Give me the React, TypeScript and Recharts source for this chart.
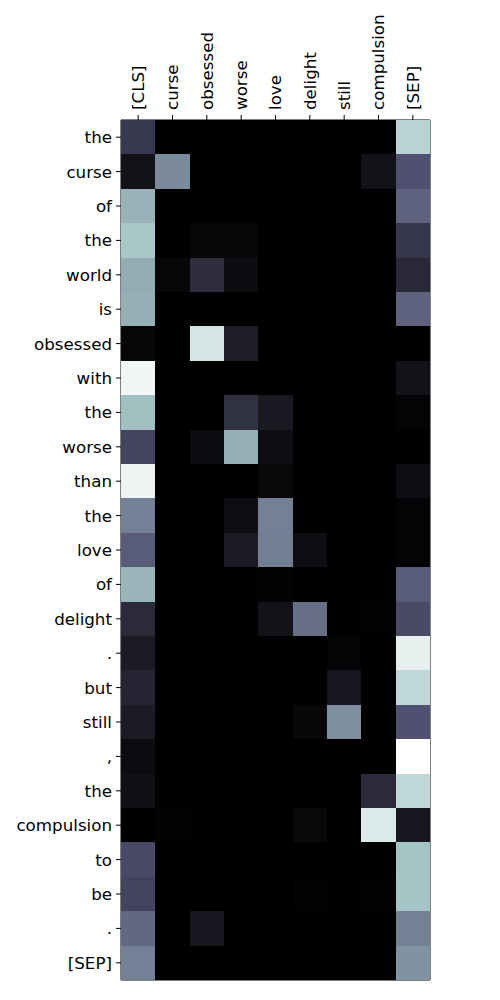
import { Scatter, ScatterChart, XAxis, YAxis } from 'recharts';

// Attention weights: one array per key token (column), 25 query tokens (rows)
const colLabels = ['[CLS]', 'curse', 'obsessed', 'worse', 'love', 'delight', 'still', 'compulsion', '[SEP]'];

const rowLabels = [
  'the', 'curse', 'of', 'the', 'world', 'is', 'obsessed', 'with', 'the', 'worse', 'than', 'the',
  'love', 'of', 'delight', '.', 'but', 'still', ',', 'the', 'compulsion', 'to', 'be', '.', '[SEP]',
];

const clsCol = [0.25, 0.08, 0.68, 0.75, 0.66, 0.67, 0.03, 0.96, 0.72, 0.3, 0.95, 0.52, 0.4, 0.69, 0.19, 0.12, 0.16, 0.12, 0.05, 0.07, 0.0, 0.33, 0.3, 0.44, 0.52];
const curseCol = [0, 0.55, 0, 0, 0.03, 0, 0, 0, 0, 0, 0, 0, 0, 0, 0, 0, 0, 0, 0, 0, 0.01, 0, 0, 0, 0];
const obsessedCol = [0, 0, 0, 0.03, 0.2, 0, 0.88, 0, 0, 0.05, 0, 0, 0, 0, 0, 0, 0, 0, 0, 0, 0, 0, 0, 0.1, 0];
const worseCol = [0, 0, 0, 0.03, 0.05, 0, 0.13, 0, 0.22, 0.67, 0, 0.06, 0.12, 0, 0, 0, 0, 0, 0, 0, 0, 0, 0, 0, 0];
const loveCol = [0, 0, 0, 0, 0, 0, 0, 0, 0.11, 0.06, 0.04, 0.52, 0.51, 0.01, 0.08, 0, 0, 0, 0, 0, 0, 0, 0, 0, 0];
const delightCol = [0, 0, 0, 0, 0, 0, 0, 0, 0, 0, 0, 0, 0.06, 0, 0.46, 0, 0, 0.03, 0, 0, 0.04, 0, 0.01, 0, 0];
const stillCol = [0, 0, 0, 0, 0, 0, 0, 0, 0, 0, 0, 0, 0, 0, 0, 0.02, 0.1, 0.57, 0, 0, 0, 0, 0, 0, 0];
const compulsionCol = [0, 0.08, 0, 0, 0, 0, 0, 0, 0, 0, 0, 0, 0, 0, 0.01, 0, 0, 0, 0, 0.19, 0.9, 0, 0.01, 0, 0];
const sepCol = [0.8, 0.36, 0.42, 0.24, 0.18, 0.42, 0, 0.08, 0.02, 0, 0.06, 0.02, 0.02, 0.4, 0.33, 0.93, 0.82, 0.36, 1.0, 0.82, 0.1, 0.74, 0.74, 0.52, 0.58];

const columns = [clsCol, curseCol, obsessedCol, worseCol, loveCol, delightCol, stillCol, compulsionCol, sepCol];

const cells = columns.flatMap((col, x) => col.map((v, y) => ({ x, y, v })));

// matplotlib "bone" colormap
function interp(stops: number[][], v: number) {
  for (let i = 1; i < stops.length; i++) {
    if (v <= stops[i][0]) {
      const [x0, y0] = stops[i - 1];
      const [x1, y1] = stops[i];
      return y0 + ((v - x0) / (x1 - x0)) * (y1 - y0);
    }
  }
  return stops[stops.length - 1][1];
}

function bone(v: number) {
  const t = Math.max(0, Math.min(1, v));
  const r = interp([[0, 0], [0.746032, 0.652778], [1, 1]], t);
  const g = interp([[0, 0], [0.365079, 0.319444], [0.746032, 0.777778], [1, 1]], t);
  const b = interp([[0, 0], [0.365079, 0.444444], [1, 1]], t);
  return `rgb(${Math.round(r * 255)},${Math.round(g * 255)},${Math.round(b * 255)})`;
}

const WIDTH = 500;
const HEIGHT = 1000;
const LEFT = 121;
const RIGHT = 70;
const TOP = 120;
const BOTTOM = 20;
const CELL_W = (WIDTH - LEFT - RIGHT) / colLabels.length;
const CELL_H = (HEIGHT - TOP - BOTTOM) / rowLabels.length;

const font = { fontFamily: 'DejaVu Sans', fontSize: 16.7, fill: '#000' } as const;

function CellShape(props: any) {
  const { cx, cy, payload } = props;
  const fill = bone(payload.v);
  // snap to whole pixels so neighbouring cells meet without seams
  const x0 = Math.round(cx - CELL_W / 2);
  const x1 = Math.round(cx + CELL_W / 2);
  const y0 = Math.round(cy - CELL_H / 2);
  const y1 = Math.round(cy + CELL_H / 2);
  return <rect x={x0} y={y0} width={x1 - x0} height={y1 - y0} fill={fill} shapeRendering="crispEdges" />;
}

function TopTick(props: any) {
  const { x, y, payload } = props;
  return (
    <text
      x={x}
      y={y}
      transform={`rotate(-90, ${x}, ${y})`}
      textAnchor="start"
      dy="0.35em"
      {...font}
    >
      {colLabels[payload.value]}
    </text>
  );
}

const colTicks = colLabels.map((_, i) => i);
const rowTicks = rowLabels.map((_, i) => i);

export default function App() {
  return (
    <div style={{ margin: -8 }}>
      <ScatterChart width={WIDTH} height={HEIGHT} margin={{ top: 0, right: 0, bottom: 0, left: 0 }}>
        <Scatter
          data={cells}
          xAxisId="top"
          yAxisId="left"
          shape={<CellShape />}
          isAnimationActive={false}
        />
        <XAxis
          xAxisId="top"
          type="number"
          dataKey="x"
          orientation="top"
          domain={[-0.5, colLabels.length - 0.5]}
          ticks={colTicks}
          interval={0}
          height={TOP}
          tickSize={5}
          tickMargin={5}
          tick={<TopTick />}
          stroke="#000"
        />
        <XAxis
          xAxisId="bottom"
          type="number"
          dataKey="x"
          orientation="bottom"
          domain={[-0.5, colLabels.length - 0.5]}
          ticks={colTicks}
          interval={0}
          height={BOTTOM}
          tickSize={5}
          tick={false}
          stroke="#000"
        />
        <YAxis
          yAxisId="left"
          type="number"
          dataKey="y"
          reversed
          domain={[-0.5, rowLabels.length - 0.5]}
          ticks={rowTicks}
          interval={0}
          width={LEFT}
          tickSize={5}
          tickMargin={4}
          tickFormatter={(i: number) => rowLabels[i]}
          tick={font}
          stroke="#000"
        />
        <YAxis
          yAxisId="right"
          type="number"
          dataKey="y"
          orientation="right"
          reversed
          domain={[-0.5, rowLabels.length - 0.5]}
          width={RIGHT}
          tick={false}
          tickLine={false}
          stroke="#000"
        />
      </ScatterChart>
    </div>
  );
}
